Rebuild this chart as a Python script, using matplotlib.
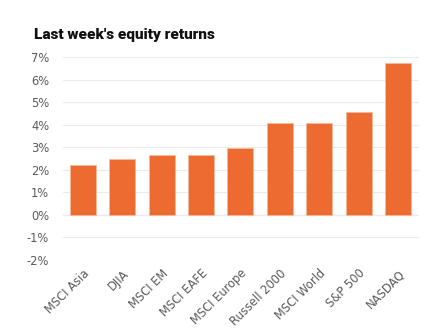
import matplotlib
matplotlib.use('Agg')
import matplotlib.pyplot as plt
from matplotlib.ticker import FuncFormatter

# values
names = ['MSCI Asia', 'DJIA', 'MSCI EM', 'MSCI EAFE', 'MSCI Europe',
         'Russell 2000', 'MSCI World', 'S&P 500', 'NASDAQ']
returns = [2.21, 2.46, 2.66, 2.66, 2.96, 4.07, 4.07, 4.58, 6.73]

fig = plt.figure(figsize=(4.41, 3.34), dpi=100)
ax = fig.add_axes([63 / 441, 1 - 260 / 334, 356 / 441, 203 / 334])

ax.bar(range(len(names)), returns, width=0.66, color='#ED6B30',
       edgecolor='#F6B99A', linewidth=0.6, zorder=3)

ax.set_ylim(-2, 7)
ax.set_xlim(-0.5, 8.53)
ax.set_yticks(range(-2, 8))
ax.yaxis.set_major_formatter(FuncFormatter(lambda v, p: f'{int(v)}%'))
ax.grid(axis='y', color='#EBEBEB', linewidth=0.8, zorder=0)
ax.axhline(0, color='#E3E3E3', linewidth=0.9, zorder=1)

ax.set_xticks(range(len(names)))
ax.set_xticklabels(names, rotation=45, ha='right', rotation_mode='anchor')
ax.tick_params(axis='both', length=0, labelsize=8.3, labelcolor='#5A5A5A')
ax.tick_params(axis='y', pad=10)
ax.tick_params(axis='x', pad=5)
for s in ax.spines.values():
    s.set_visible(False)

fig.text(34 / 441, 1 - 35 / 334, "Last week's equity returns", fontsize=11,
         family='Roboto', fontweight='heavy', color='#111111', va='center')

fig.savefig('out.png', dpi=100, facecolor='white')
